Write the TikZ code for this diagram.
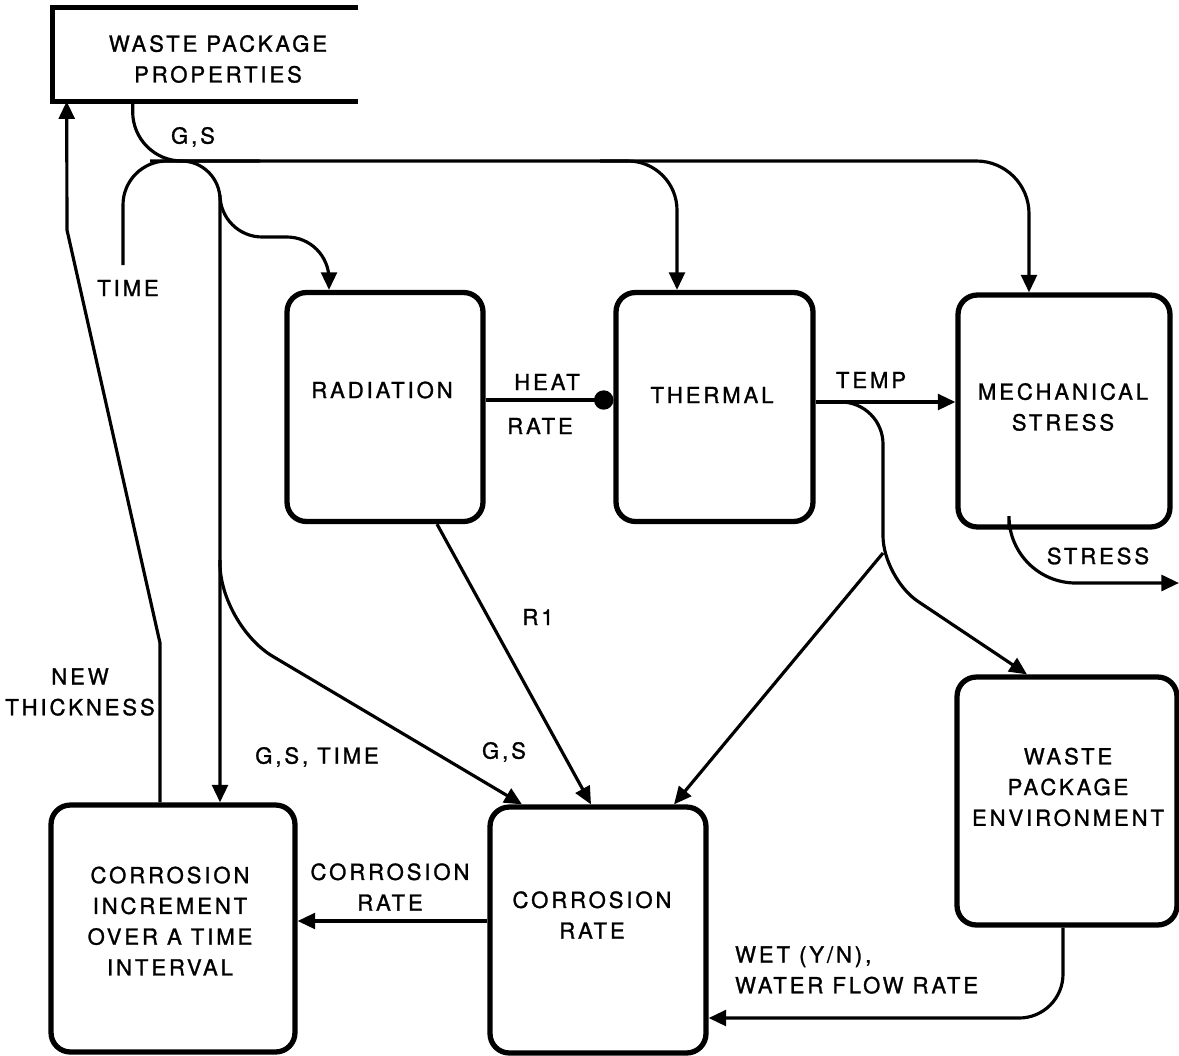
\documentclass[tikz,border=0pt]{standalone}
\usepackage{fontspec}
\setmainfont{TeX Gyre Heros}[LetterSpace=13, FakeBold=1.2]
\usetikzlibrary{arrows.meta, calc}

\begin{document}
\begin{tikzpicture}[x=0.02cm, y=-0.02cm,
    font=\fontsize{12.6}{17.5}\selectfont,
    block/.style={draw, line width=3pt, rounded corners=11pt, inner sep=0pt},
    source/.style={inner sep=0pt, minimum width=6.1cm, minimum height=1.86cm},
    txt/.style={align=center, inner sep=1pt},
    lbl/.style={align=center, inner sep=1pt},
    wire/.style={line width=1.8pt},
    flow/.style={wire, -{Triangle[length=10pt, width=9pt]}},
    dotflow/.style={wire, -{Circle[length=11pt]}}]
  \useasboundingbox (0,0) rectangle (1179,1055);

  \node[source] (wpp) at (205.5,54.5) {};
  \draw[line width=2.8pt] (wpp.north east) -- (wpp.north west) -- (wpp.south west) -- (wpp.south east);
  \node[block, minimum width=3.92cm, minimum height=4.58cm] (radiation) at (385,407) {};
  \node[block, minimum width=3.94cm, minimum height=4.58cm] (thermal) at (714.5,407) {};
  \node[block, minimum width=4.24cm, minimum height=4.64cm] (mech) at (1064,411) {};
  \node[block, minimum width=4.40cm, minimum height=4.96cm] (env) at (1067,801) {};
  \node[block, minimum width=4.88cm, minimum height=4.94cm] (corrinc) at (173,928.5) {};
  \node[block, minimum width=4.32cm, minimum height=4.92cm] (corrrate) at (598,930) {};

  \node[txt] (wpp-t) at (218,59) {WASTE PACKAGE\\PROPERTIES};
  \node[txt] (radiation-t) at (382,390) {RADIATION};
  \node[txt] (thermal-t) at (712,395) {THERMAL};
  \node[txt] (mech-t) at (1063,407) {MECHANICAL\\STRESS};
  \node[txt] (env-t) at (1068,787) {WASTE\\PACKAGE\\ENVIRONMENT};
  \node[txt] (corrinc-t) at (170,921) {CORROSION\\INCREMENT\\OVER A TIME\\INTERVAL};
  \node[txt] (corrrate-t) at (592,915) {CORROSION\\RATE};

  \coordinate (bus) at (600,161);
  \coordinate (time-end) at (123,265);
  \coordinate (temp) at ($(thermal.east)+(0,-5)$);
  \coordinate (stress-out) at (1179,583);

  \draw[flow, rounded corners=28] ($(wpp.south west)+(80,0)$) |- (677,161) -- ($(thermal.north)+(-37.5,0)$);
  \draw[flow, rounded corners=30] (bus) -| ($(mech.north)+(-35,0)$);
  \draw[wire, rounded corners=25] (time-end) |- (260,161);
  \draw[flow, rounded corners=22] (150,161) -| ($(corrinc.north)+(47,0)$);
  \draw[flow, rounded corners=24] (220,195) |- (329,237) -- ($(radiation.north)+(-56,0)$);
  \draw[flow, rounded corners=35] (220,560) -- (220,625) -- ($(corrrate.north)+(-76,0)$);
  \draw[flow] ($(radiation.south)+(52,0)$) -- ($(corrrate.north)+(-7,0)$);
  \draw[dotflow] ($(radiation.east)+(0,-7)$) -- ($(thermal.west)+(0,-7)$);
  \draw[flow] (temp) -- (temp -| mech.west);
  \draw[flow, rounded corners=24] (840,402) -| (883,578) -- ($(env.north)+(-40,0)$);
  \draw[flow] (883,553) -- ($(corrrate.north)+(76,0)$);
  \draw[flow, rounded corners=38] ($(mech.south)+(-55,0)$) |- (stress-out);
  \draw[flow] ($(corrrate.west)+(0,-9)$) -- ($(corrinc.east)+(0,-7.5)$);
  \draw[flow, rounded corners=25] ($(env.south)+(-4,0)$) |- ($(corrrate.east)+(0,88)$);
  \draw[flow] ($(corrinc.north)+(-13,0)$) -- (160,643) -- (67,230) -- ($(wpp.south west)+(14,0)$);

  \node[lbl] (gs-top) at (193,137) {G,S};
  \node[lbl] (time) at (128,288) {TIME};
  \node[lbl] (heat) at (547,382) {HEAT};
  \node[lbl] (rate) at (540,426) {RATE};
  \node[lbl] (temp-l) at (871,380) {TEMP};
  \node[lbl] (stress) at (1098,556) {STRESS};
  \node[lbl] (r1) at (538,617) {R1};
  \node[lbl] (thick) at (80,692) {NEW\\THICKNESS};
  \node[lbl] (gs-time) at (317,757) {G,S, TIME};
  \node[lbl] (gs-low) at (504,752) {G,S};
  \node[lbl] (cr-l) at (390,887) {CORROSION\\RATE};
  \node[lbl, align=left, anchor=west] (wet) at (733,970) {WET (Y/N),\\WATER FLOW RATE};
\end{tikzpicture}
\end{document}
